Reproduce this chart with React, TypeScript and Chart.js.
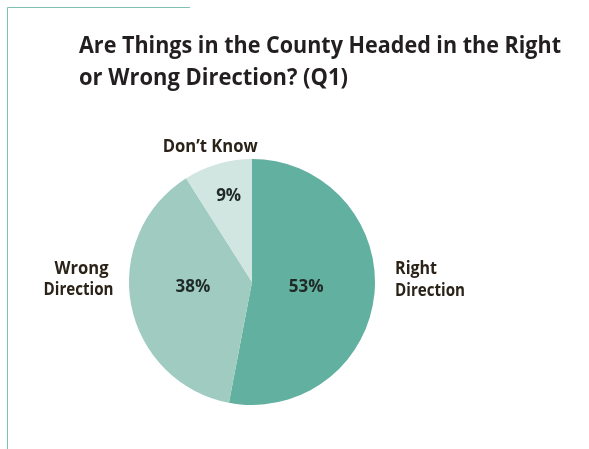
import React, { useEffect, useRef } from "react";
import { Chart, registerables } from "chart.js";

Chart.register(...registerables);

const categories = ["Right Direction", "Wrong Direction", "Don’t Know"];
const values = [53, 38, 9];
const valueLabels = ["53%", "38%", "9%"];
const colors = ["#62b0a0", "#9fcbc0", "#d1e6e1"];
const titleLines = ["Are Things in the County Headed in the Right", "or Wrong Direction? (Q1)"];
const outerLabelLines = [["Right", "Direction"], ["Wrong", "Direction"], ["Don’t Know"]];

const FONT = '"Open Sans", "DejaVu Sans", sans-serif';

const overlayPlugin = {
  id: "overlay",
  afterDraw(chart: any) {
    const ctx = chart.ctx as CanvasRenderingContext2D;
    const meta = chart.getDatasetMeta(0);
    const arc0 = meta.data[0] as any;
    const cx = arc0.x;
    const cy = arc0.y;
    const r = arc0.outerRadius;
    ctx.save();

    // frame lines
    ctx.strokeStyle = "#7fc2b3";
    ctx.lineWidth = 1;
    ctx.beginPath();
    ctx.moveTo(7.5, 449);
    ctx.lineTo(7.5, 7.5);
    ctx.lineTo(190, 7.5);
    ctx.stroke();

    // title
    ctx.fillStyle = "#231f20";
    ctx.textAlign = "left";
    ctx.textBaseline = "alphabetic";
    ctx.font = `bold 24px ${FONT}`;
    ctx.fillText(titleLines[0], 79, 53, 482);
    ctx.fillText(titleLines[1], 79, 85, 269);

    // percentage labels (relative to pie geometry)
    const pctPos = [
      [0.44, 0.045],
      [-0.48, 0.04],
      [-0.19, -0.70],
    ];
    const pctWidths = [35, 37, 25];
    ctx.fillStyle = "#1f2a27";
    ctx.textAlign = "center";
    ctx.textBaseline = "middle";
    ctx.font = `bold 17px ${FONT}`;
    valueLabels.forEach((t, i) => {
      ctx.fillText(t, cx + pctPos[i][0] * r, cy + pctPos[i][1] * r, pctWidths[i]);
    });

    // category labels
    ctx.fillStyle = "#2b2218";
    ctx.font = `bold 17px ${FONT}`;
    // Right Direction
    ctx.textAlign = "left";
    const rx = cx + 1.163 * r;
    ctx.fillText(outerLabelLines[0][0], rx, cy - 13, 42);
    ctx.fillText(outerLabelLines[0][1], rx, cy + 9, 70);
    // Wrong Direction
    ctx.textAlign = "center";
    const wx = cx - 1.41 * r;
    ctx.fillText(outerLabelLines[1][0], wx + 3, cy - 13, 54);
    ctx.fillText(outerLabelLines[1][1], wx, cy + 8, 70);
    // Don't Know
    ctx.fillText(outerLabelLines[2][0], cx - 0.34 * r, cy - 1.1 * r, 95);

    ctx.restore();
  },
};

export default function App() {
  const ref = useRef<HTMLCanvasElement | null>(null);
  useEffect(() => {
    if (!ref.current) return;
    const chart = new Chart(ref.current, {
      type: "pie",
      data: {
        labels: categories,
        datasets: [
          {
            data: values,
            backgroundColor: colors,
            borderWidth: 0,
          },
        ],
      },
      options: {
        animation: false,
        responsive: true,
        maintainAspectRatio: false,
        layout: { padding: { left: 129, right: 214, top: 159, bottom: 44 } },
        plugins: {
          legend: { display: false },
          tooltip: { enabled: false },
          title: { display: false },
        },
      },
      plugins: [overlayPlugin],
    });
    return () => chart.destroy();
  }, []);
  return (
    <div style={{ position: "absolute", left: 0, top: 0, width: 589, height: 449, background: "#fff" }}>
      <canvas ref={ref} />
    </div>
  );
}
